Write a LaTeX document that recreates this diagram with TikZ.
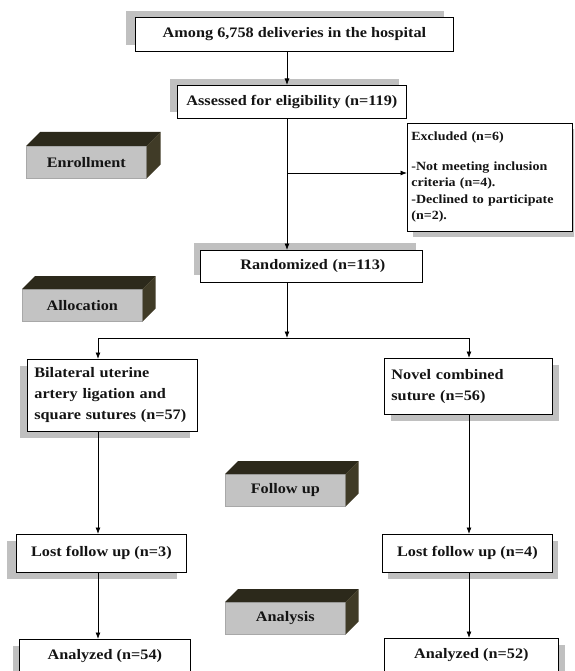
\documentclass[tikz,border=0pt]{standalone}
\usepackage{fontspec}
\setmainfont{Liberation Serif}[FakeStretch=1.12]
\usetikzlibrary{arrows.meta,shadows}
\definecolor{shadowgray}{HTML}{C0C0C0}
\definecolor{topface}{HTML}{2C291B}
\definecolor{sideface}{HTML}{403B27}
\definecolor{frontface}{HTML}{C3C3C3}
\definecolor{frontline}{HTML}{A8A8A8}
\definecolor{ink}{HTML}{141414}
\newcommand\stagefaces[2]{%
  \fill[topface] (#1.north west) -- ++(#2,-#2) -- ([shift={(#2,-#2)}]#1.north east) -- (#1.north east) -- cycle;
  \fill[sideface] (#1.north east) -- ++(#2,-#2) -- ([shift={(#2,-#2)}]#1.south east) -- (#1.south east) -- cycle;}
\begin{document}
\begin{tikzpicture}[x=1pt,y=-1pt,
  font=\bfseries\fontsize{14.5}{16}\selectfont,
  whitebox/.style={draw=black, line width=0.8pt, fill=white, anchor=north west, inner sep=0pt, text=ink},
  sh/.style 2 args={general shadow={shadow xshift=#1pt, shadow yshift=#2pt, fill=shadowgray}},
  stage/.style={fill=frontface, draw=frontline, line width=0.6pt, anchor=north west, minimum width=120pt, minimum height=32pt, inner sep=0pt, text=ink, font=\bfseries\fontsize{14.5}{16}\selectfont},
  arr/.style={draw=black, line width=0.8pt, -{Latex[length=6.5pt,width=5pt]}},
  link/.style={draw=black, line width=0.8pt}]
\useasboundingbox (0,0) rectangle (574,671);
\clip (0,0) rectangle (574,671);

\node[whitebox, sh={-9}{6}, minimum width=318pt, minimum height=34pt] (top) at (135,17) {Among 6,758 deliveries in the hospital};
\node[whitebox, sh={-7}{6}, minimum width=229pt, minimum height=33pt] (assess) at (177,85) {Assessed for eligibility (n=119)};
\node[whitebox, sh={6}{-6}, text width=157pt, inner xsep=4pt, minimum height=108pt, align=left, font=\bfseries\fontsize{12.5}{16.5}\selectfont] (excl) at (407,123) {Excluded (n=6)\\[13pt]-Not meeting inclusion\\criteria (n=4).\\-Declined to participate\\(n=2).};
\node[whitebox, sh={-6}{7}, text width=214pt, inner xsep=4pt, minimum height=32pt, align=left] (rand) at (200,250) {\hspace*{36pt}Randomized (n=113)};

\node[whitebox, sh={-7}{-7}, text width=156pt, inner xsep=7pt, minimum height=72pt, align=left, font=\bfseries\fontsize{14.5}{21}\selectfont] (bil) at (27,359) {Bilateral uterine\\artery ligation and\\square sutures (n=57)};
\node[whitebox, sh={7}{-7}, text width=154pt, inner xsep=7pt, minimum height=56pt, align=left, font=\bfseries\fontsize{14.5}{21}\selectfont] (nov) at (384,358) {Novel combined\\suture (n=56)\\[-3pt]};

\node[whitebox, sh={-9}{-7}, minimum width=170pt, minimum height=38pt] (lost1) at (16,534) {Lost follow up (n=3)};
\node[whitebox, sh={6}{-7}, minimum width=170pt, minimum height=38pt] (lost2) at (382,534) {Lost follow up (n=4)};
\node[whitebox, sh={-6}{-7}, minimum width=171pt, minimum height=34pt] (anal1) at (19,639) {Analyzed (n=54)};
\node[whitebox, sh={7}{-7}, minimum width=174pt, minimum height=34pt] (anal2) at (384,638) {Analyzed (n=52)};

\node[stage] (enr) at (26,146) {Enrollment};
\stagefaces{enr}{14}
\node[stage] (alloc) at (22,289) {Allocation};
\stagefaces{alloc}{13}
\node[stage] (fol) at (225,474) {Follow up};
\stagefaces{fol}{13}
\node[stage] (ana) at (225,602) {Analysis};
\stagefaces{ana}{13}

\coordinate (sp) at (287,0);
\coordinate (lc) at (98,338);
\coordinate (rc) at (469,338);
\coordinate (exy) at (0,173);
\draw[arr] (sp |- top.south) -- (sp |- assess.north);
\draw[arr] (sp |- assess.south) -- (sp |- rand.north);
\draw[arr] (sp |- exy) -- (excl.west |- exy);
\draw[arr] (sp |- rand.south) -- (sp |- lc);
\draw[link] (lc) -- (rc);
\draw[arr] (lc) -- (lc |- bil.north);
\draw[arr] (rc) -- (rc |- nov.north);
\draw[arr] (lc |- bil.south) -- (lc |- lost1.north);
\draw[arr] (lc |- lost1.south) -- (lc |- anal1.north);
\draw[arr] (rc |- nov.south) -- (rc |- lost2.north);
\draw[arr] (rc |- lost2.south) -- (rc |- anal2.north);
\end{tikzpicture}
\end{document}
